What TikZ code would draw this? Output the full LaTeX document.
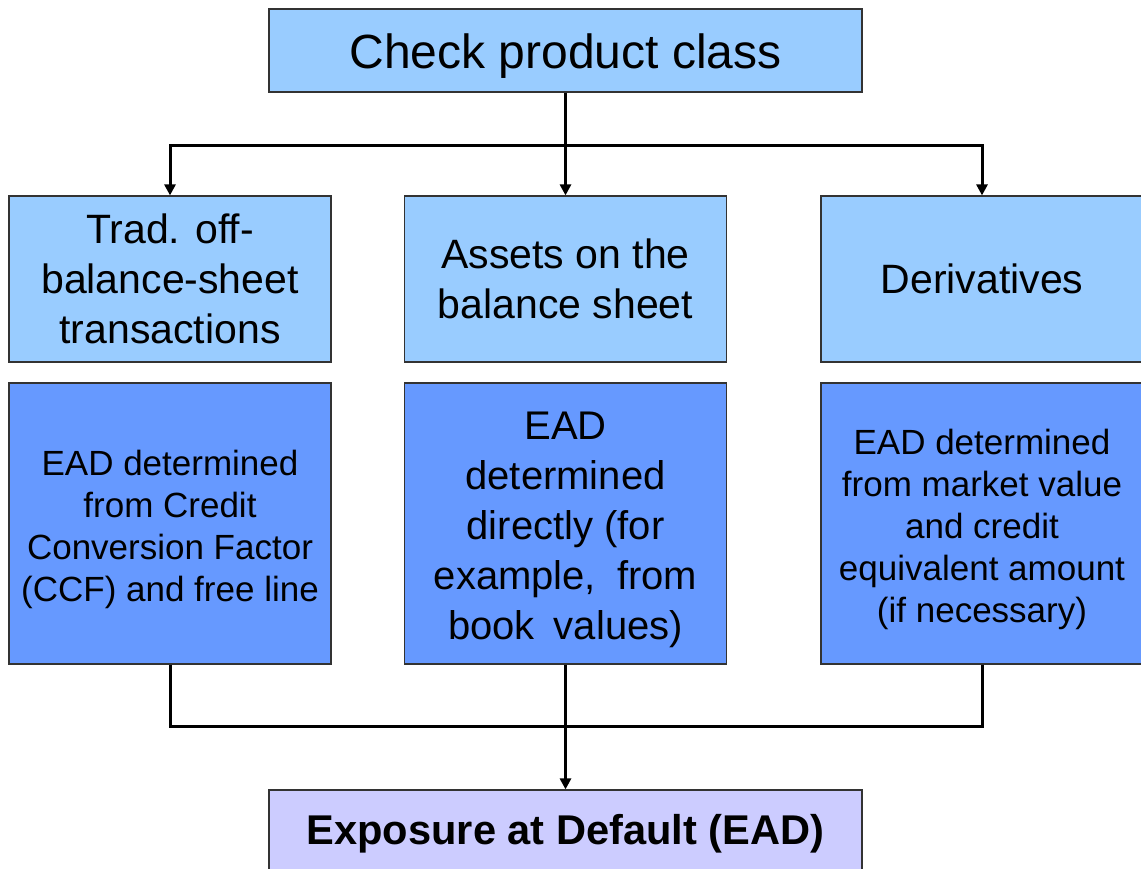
\documentclass[tikz,border=0pt]{standalone}
\usepackage{fontspec}
\setmainfont{Liberation Sans}
\usetikzlibrary{arrows.meta}
\definecolor{lightblue}{HTML}{99CCFF}
\definecolor{midblue}{HTML}{6699FF}
\definecolor{lavender}{HTML}{CCCCFF}
\definecolor{edgegray}{HTML}{333333}
\newcommand\dnstrut[1]{\rule{0pt}{\dimexpr0.75em+#1\relax}}
\begin{document}
\begin{tikzpicture}[x=1pt,y=-1pt,
  box/.style={draw=edgegray, line width=1.2pt, inner sep=0pt, align=center},
  topbox/.style={box, fill=lightblue, minimum width=593pt, minimum height=83pt, font=\fontsize{48}{56}\selectfont},
  classbox/.style={box, fill=lightblue, minimum width=322pt, minimum height=166pt, font=\fontsize{41}{50}\selectfont},
  eadbox/.style={box, fill=midblue, minimum width=322pt, minimum height=281pt, font=\fontsize{35}{42}\selectfont},
  eadbig/.style={box, fill=midblue, minimum width=322pt, minimum height=281pt, font=\fontsize{40}{50}\selectfont},
  resultbox/.style={box, fill=lavender, minimum width=593pt, minimum height=80pt, font=\fontsize{41.6}{48}\selectfont\bfseries},
  conn/.style={line width=3pt, line join=miter, draw=black},
  arr/.style={conn, -{Triangle[length=11pt,width=11pt]}}
]
\useasboundingbox (0,0) rectangle (1141,868);
\node[topbox] (top) at (565.5,50.5) {\dnstrut{9pt}Check product class};
\node[classbox] (a1) at (170,279) {Trad. off-\\balance-sheet\\transactions};
\node[classbox] (a2) at (565.5,279) {Assets on the\\balance sheet};
\node[classbox] (a3) at (982,279) {Derivatives};
\node[eadbox] (b1) at (170,523.5) {\dnstrut{10pt}EAD determined\\from Credit\\Conversion Factor\\(CCF) and free line};
\node[eadbig] (b2) at (565.5,523.5) {\dnstrut{11pt}EAD\\determined\\directly (for\\example,\hspace{0.25em} from\\book\hspace{0.2em} values)};
\node[eadbox] (b3) at (982,523.5) {\dnstrut{10pt}EAD determined\\from market value\\and credit\\equivalent amount\\(if necessary)};
\node[resultbox] (ead) at (565.5,830) {\dnstrut{7pt}Exposure at Default (EAD)};
\coordinate (j1) at (565.5,145);
\coordinate (j2) at (565.5,726);
\draw[conn] (top.south) -- (j1);
\draw[arr] (j1) -| (a1.north);
\draw[arr] (j1) -| (a3.north);
\draw[arr] (j1) -- (a2.north);
\draw[conn] (b1.south) |- (j2);
\draw[conn] (b3.south) |- (j2);
\draw[arr] (b2.south) -- (ead.north);
\end{tikzpicture}
\end{document}
